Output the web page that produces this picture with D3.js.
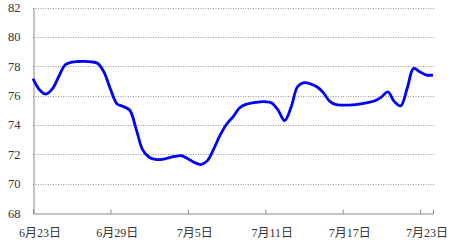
<!DOCTYPE html>
<html>
<head>
<meta charset="utf-8">
<script src="https://cdn.jsdelivr.net/npm/d3@7"></script>
<style>
  body { margin: 0; background: #fff; }
  svg text { font-family: "Liberation Serif", "Noto Sans CJK SC", serif; font-size: 12px; fill: #333; }
</style>
</head>
<body>
<svg></svg>
<script>
// canvas size
const w = 454;
const h = 242;

// plot area
const plotLeft = 33;
const plotRight = 433;
const plotTop = 7.5;
const plotBottom = 213;

// readings every 12 hours from 6/23 0:00
const startDate = new Date(2023, 5, 23);
const halfDays = d3.range(0, 63);
const values = [
  77.15, 76.4, 76.1, 76.45, 77.3, 78.1, 78.28, 78.32, 78.33, 78.3,
  78.2, 77.6, 76.45, 75.45, 75.25, 75.0, 73.7, 72.3, 71.8, 71.65,
  71.65, 71.75, 71.85, 71.9, 71.7, 71.45, 71.3, 71.55, 72.35, 73.3,
  74.05, 74.55, 75.15, 75.4, 75.5, 75.56, 75.58, 75.5, 75.0, 74.3,
  75.2, 76.6, 76.88, 76.8, 76.6, 76.2, 75.6, 75.38, 75.35, 75.35,
  75.38, 75.45, 75.53, 75.65, 75.9, 76.25, 75.6, 75.3, 76.5, 77.85,
  77.6, 77.4, 77.4
];
const dates = halfDays.map(i => d3.timeHour.offset(startDate, i * 12));

// axis ticks
const yTicks = [68, 70, 72, 74, 76, 78, 80, 82];
const xTickDates = [
  new Date(2023, 5, 23), new Date(2023, 5, 29), new Date(2023, 6, 5),
  new Date(2023, 6, 11), new Date(2023, 6, 17), new Date(2023, 6, 23)
];
const xTickLabels = ["6月23日", "6月29日", "7月5日", "7月11日", "7月17日", "7月23日"];

const svg = d3.select("svg")
              .attr("width", w)
              .attr("height", h);

const xScale = d3.scaleTime()
                 .domain([startDate, new Date(2023, 6, 24)])
                 .range([plotLeft, plotRight]);

const yScale = d3.scaleLinear()
                 .domain([68, 82])
                 .range([plotBottom, plotTop]);

// dotted gridlines
svg.append("g")
   .selectAll("line")
   .data(yTicks.filter(v => v > 68))
   .enter()
   .append("line")
   .attr("x1", plotLeft)
   .attr("x2", plotRight + 1)
   .attr("y1", v => Math.round(yScale(v)) + 0.5)
   .attr("y2", v => Math.round(yScale(v)) + 0.5)
   .attr("stroke", "#999")
   .attr("stroke-dasharray", "1,1.5");

// y-axis
const yAxis = d3.axisLeft(yScale)
                .tickValues(yTicks)
                .tickSize(0)
                .tickPadding(13);
const gy = svg.append("g")
              .attr("transform", "translate(" + (plotLeft + 0.5) + ",0)")
              .call(yAxis);
gy.select(".domain").attr("stroke", "#888");
gy.selectAll("text").style("font-size", "12.5px");

// x-axis, ticks point up, labels centred on the day
const xAxis = d3.axisBottom(xScale)
                .tickValues(xTickDates)
                .tickSize(-4)
                .tickFormat((d, i) => xTickLabels[i]);
const gx = svg.append("g")
              .attr("transform", "translate(0," + (plotBottom + 0.5) + ")")
              .call(xAxis);
gx.select(".domain").attr("stroke", "#888");
gx.selectAll(".tick line").attr("stroke", "#888");
gx.selectAll("text")
  .attr("dy", null)
  .attr("y", 23)
  .attr("dx", xScale(new Date(2023, 5, 23, 12)) - plotLeft);

// the series
const line = d3.line()
               .x((d, i) => xScale(dates[i]))
               .y(d => yScale(d))
               .curve(d3.curveCatmullRom);

svg.append("path")
   .datum(values)
   .attr("d", line)
   .attr("fill", "none")
   .attr("stroke", "#0000ff")
   .attr("stroke-width", 2.8)
   .attr("stroke-linejoin", "round");
</script>
</body>
</html>
